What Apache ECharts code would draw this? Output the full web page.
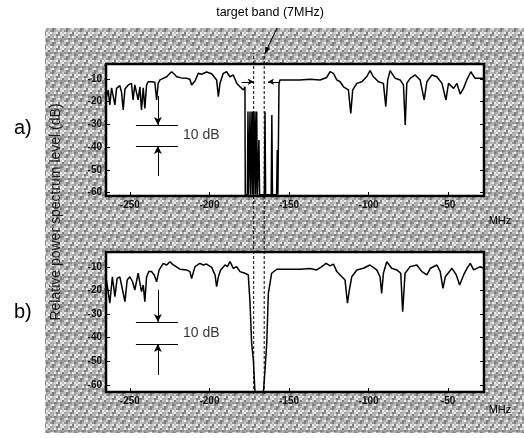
<!DOCTYPE html>
<html>
<head>
<meta charset="utf-8">
<script src="https://cdn.jsdelivr.net/npm/echarts@6/dist/echarts.min.js"></script>
<style>
html, body { margin: 0; padding: 0; background: #fff; }
#chart { width: 524px; height: 438px; }
</style>
</head>
<body>
<div id="chart"></div>
<script>
// spectrum a): [frequency MHz, relative level dB]
var traceA = [
  [-264.7,-17.9],[-263.6,-15.0],[-262.6,-21.5],[-261.5,-14.0],[-260.5,-13.2],[-259.4,-21.5],[-258.4,-14.2],
  [-256.3,-13.0],[-255.2,-16.0],[-254.2,-23.7],[-253.1,-14.5],[-251.0,-12.7],[-249.0,-12.0],[-248.0,-19.3],
  [-246.9,-12.7],[-245.8,-12.0],[-244.8,-19.3],[-243.7,-13.5],[-242.7,-23.7],[-241.6,-14.0],[-240.6,-23.0],
  [-239.5,-12.7],[-238.5,-11.3],[-236.4,-11.3],[-234.3,-11.5],[-233.2,-19.3],[-232.2,-12.0],[-231.1,-10.5],
  [-229.0,-9.8],[-226.9,-9.1],[-223.8,-6.9],[-222.0,-8.0],[-220.6,-9.1],[-217.5,-9.6],[-214.4,-9.8],
  [-212.3,-10.2],[-211.2,-12.7],[-210.2,-13.5],[-209.1,-11.0],[-207.0,-7.6],[-205.0,-8.0],[-203.9,-7.2],
  [-201.8,-7.0],[-200.7,-6.9],[-198.6,-7.8],[-197.6,-8.3],[-195.5,-10.5],[-194.4,-17.9],[-193.4,-12.0],
  [-191.3,-7.6],[-189.2,-6.9],[-188.2,-8.0],[-187.1,-9.1],[-185.0,-8.3],[-182.9,-12.0],[-180.8,-13.5],
  [-178.7,-14.9],[-177.7,-13.5],
  // notch with residual lines
  [-177.5,-61],[-176.2,-61],[-175.8,-24.4],[-175.4,-61],[-174.9,-61],[-174.5,-24.4],[-174.1,-61],
  [-173.7,-61],[-173.3,-24.4],[-172.9,-61],[-172.7,-61],[-172.5,-24.4],[-172.2,-61],[-171.8,-61],
  [-171.4,-24.4],[-171.0,-61],[-170.7,-61],[-170.3,-24.4],[-169.9,-61],[-169.3,-61],[-168.9,-36.9],
  [-168.5,-61],[-165.5,-61],[-165.1,-24.4],[-164.7,-61],[-161.2,-61],[-160.8,-25.9],[-160.4,-61],
  [-157.8,-61],[-157.4,-41.3],[-157.0,-61],[-156.5,-61],[-156.3,-12.0],
  [-155.7,-10.5],[-149.4,-10.5],[-143.1,-10.5],[-136.8,-10.2],[-130.5,-10.5],[-126.3,-9.4],[-124.2,-6.9],
  [-122.1,-7.6],[-120.0,-10.5],[-117.9,-11.3],[-115.8,-13.5],[-112.7,-14.9],[-111.2,-25.2],[-110.0,-14.9],
  [-107.4,-12.0],[-104.3,-11.3],[-101.2,-9.1],[-99.1,-6.4],[-97.0,-9.1],[-93.8,-11.3],[-90.7,-12.0],
  [-89.2,-22.2],[-88.0,-10.5],[-86.5,-6.4],[-83.3,-9.8],[-80.2,-10.5],[-78.1,-12.7],[-77.0,-30.3],
  [-76.0,-12.0],[-73.9,-9.8],[-70.7,-8.3],[-67.6,-10.5],[-65.1,-19.3],[-63.4,-11.3],[-60.2,-8.3],
  [-57.1,-9.1],[-53.9,-12.0],[-51.4,-19.3],[-49.8,-12.0],[-46.6,-14.2],[-44.5,-12.0],[-42.5,-16.7],
  [-40.4,-14.2],[-38.3,-10.5],[-35.8,-6.9],[-33.1,-9.8],[-29.9,-9.8],[-27.8,-9.8]
];

// spectrum b)
var traceB = [
  [-264.7,-15.6],[-262.6,-25.4],[-261.0,-14.2],[-259.4,-22.6],[-258.0,-14.9],[-256.3,-14.2],[-254.6,-19.8],
  [-253.1,-24.7],[-251.7,-15.6],[-250.0,-14.2],[-248.3,-16.3],[-246.9,-19.8],[-244.8,-12.7],[-242.7,-20.5],
  [-241.6,-17.7],[-240.6,-24.7],[-239.5,-14.2],[-238.1,-12.0],[-236.4,-12.0],[-234.7,-13.4],[-233.2,-16.3],
  [-231.6,-11.3],[-229.0,-8.5],[-226.9,-9.2],[-224.8,-7.8],[-222.7,-9.2],[-218.6,-11.0],[-214.4,-11.3],
  [-212.3,-12.0],[-211.2,-14.9],[-209.1,-9.9],[-206.0,-8.5],[-203.9,-9.2],[-201.8,-8.8],[-198.6,-10.2],
  [-196.5,-13.4],[-195.5,-18.4],[-194.4,-14.2],[-193.0,-11.3],[-190.2,-9.2],[-188.7,-9.9],[-187.1,-7.8],
  [-185.0,-10.6],[-182.9,-9.9],[-180.8,-12.0],[-177.7,-12.7],[-175.6,-13.4],[-174.5,-25.4],[-173.5,-42.4],
  [-172.4,-49.5],[-171.4,-63],[-166.1,-63],[-165.1,-53.7],[-164.0,-42.4],[-163.0,-21.2],[-160.9,-12.7],
  [-157.7,-11.0],[-151.5,-11.0],[-143.1,-11.0],[-136.8,-10.7],[-132.6,-11.3],[-129.4,-9.9],[-126.7,-8.5],
  [-124.2,-9.6],[-122.1,-8.8],[-120.0,-12.0],[-116.8,-14.2],[-114.8,-15.6],[-113.3,-25.4],[-112.1,-19.8],
  [-110.6,-14.2],[-107.4,-11.3],[-103.3,-10.6],[-99.1,-9.2],[-94.9,-11.3],[-92.8,-14.2],[-91.8,-21.2],
  [-90.7,-12.7],[-88.6,-7.8],[-85.5,-10.6],[-82.3,-11.3],[-79.8,-12.7],[-78.6,-29.0],[-77.1,-12.7],
  [-73.9,-9.9],[-69.7,-9.2],[-66.5,-12.0],[-63.4,-13.4],[-61.2,-10.6],[-57.1,-9.2],[-55.0,-12.0],
  [-53.3,-19.1],[-51.8,-14.2],[-47.6,-10.6],[-44.9,-13.4],[-42.8,-17.7],[-40.3,-13.4],[-38.2,-10.6],
  [-36.1,-8.5],[-34.0,-11.3],[-29.8,-9.9],[-27.8,-10.6]
];

// target band edges (MHz)
var bandEdges = [-172.2, -165.6];
var xRange = [-265, -27.5];
var yRangeA = [-61.5, -3.5];
var yRangeB = [-63, -3.7];

// "10 dB" scale markers: [bar top, bar bottom, arrow start above, arrow start below]
var tenDbA = [-30.3, -39.5, -17.5, -52.7];
var tenDbB = [-33.4, -42.7, -19.8, -55.8];
var markerSpan = [-246.2, -219.8];
var markerX = -232.4;
var labelX = -216.7;

var FONT = 'Arial, "Liberation Sans", sans-serif';

// coarse dither texture for the scanned background
var tex = document.createElement('canvas');
tex.width = 14; tex.height = 14;
var tctx = tex.getContext('2d');
var shades = ['#d0d0d0', '#7c7c7c', '#b0b0b0', '#ececec', '#939393', '#bfbfbf', '#a4a4a4'];
for (var i = 0; i < 7; i++) {
  for (var j = 0; j < 7; j++) {
    tctx.fillStyle = shades[(i * 3 + j * 5 + (i * j) % 3) % 7];
    tctx.fillRect(i * 2, j * 2, 2, 2);
  }
}

function xAxisOf(gi) {
  return {
    gridIndex: gi, type: 'value', min: xRange[0], max: xRange[1], splitNumber: 5,
    axisLine: { show: false },
    axisTick: { inside: true, length: 4, lineStyle: { color: '#000' } },
    splitLine: { show: false },
    axisLabel: {
      margin: 4, fontSize: 10, fontWeight: 'bold', color: '#111', fontFamily: FONT,
      showMinLabel: false, showMaxLabel: false,
      formatter: function (v) { return v % 50 === 0 ? String(v) : ''; }
    }
  };
}

function yAxisOf(gi, range, side) {
  return {
    gridIndex: gi, type: 'value', min: range[0], max: range[1], splitNumber: 6,
    position: side,
    axisLine: { show: false },
    axisTick: { inside: true, length: 4, lineStyle: { color: '#000' } },
    splitLine: { show: false },
    axisLabel: {
      show: side === 'left', margin: 4, fontSize: 10, fontWeight: 'bold', color: '#111', fontFamily: FONT,
      showMinLabel: false, showMaxLabel: false,
      formatter: function (v) { return v % 10 === 0 ? String(v) : ''; }
    }
  };
}

function scaleMarks(m) {
  return [
    [{ coord: [markerSpan[0], m[0]] }, { coord: [markerSpan[1], m[0]] }],
    [{ coord: [markerSpan[0], m[1]] }, { coord: [markerSpan[1], m[1]] }],
    [{ coord: [markerX, m[2]] }, { coord: [markerX, m[0]], symbol: 'arrow', symbolSize: [6, 8] }],
    [{ coord: [markerX, m[3]] }, { coord: [markerX, m[1]], symbol: 'arrow', symbolSize: [6, 8] }]
  ];
}

var marksA = scaleMarks(tenDbA).concat([
  [{ coord: [-179.8, -11.3] }, { coord: [bandEdges[0], -11.3], symbol: 'arrow', symbolSize: [5, 6] }],
  [{ coord: [-155.7, -11.3] }, { coord: [-163.2, -11.3], symbol: 'arrow', symbolSize: [5, 6] }]
]);

function markLineOf(data) {
  return {
    silent: true, animation: false, symbol: ['none', 'none'],
    label: { show: false },
    lineStyle: { color: '#000', width: 1, type: 'solid' },
    data: data
  };
}

var chart = echarts.init(document.getElementById('chart'));

var option = {
  backgroundColor: '#fff',
  animation: false,
  grid: [
    { left: 106, top: 64, width: 378, height: 132, show: true, backgroundColor: '#fff', borderColor: '#000', borderWidth: 2.5 },
    { left: 106, top: 252, width: 378, height: 140, show: true, backgroundColor: '#fff', borderColor: '#000', borderWidth: 2.5 },
    { left: 106, top: 53, width: 378, height: 341, show: false }
  ],
  xAxis: [
    xAxisOf(0),
    xAxisOf(1),
    { gridIndex: 2, type: 'value', min: xRange[0], max: xRange[1], show: false }
  ],
  yAxis: [
    yAxisOf(0, yRangeA, 'left'),
    yAxisOf(0, yRangeA, 'right'),
    yAxisOf(1, yRangeB, 'left'),
    yAxisOf(1, yRangeB, 'right'),
    { gridIndex: 2, type: 'value', min: 0, max: 1, show: false }
  ],
  series: [
    {
      type: 'line', xAxisIndex: 0, yAxisIndex: 0, data: traceA,
      showSymbol: false, symbol: 'none',
      lineStyle: { color: '#000', width: 1.5 },
      markLine: markLineOf(marksA)
    },
    {
      type: 'line', xAxisIndex: 1, yAxisIndex: 2, data: traceB,
      showSymbol: false, symbol: 'none',
      lineStyle: { color: '#000', width: 1.5 },
      markLine: markLineOf(scaleMarks(tenDbB))
    },
    {
      type: 'line', xAxisIndex: 2, yAxisIndex: 4, symbol: 'none',
      data: [[bandEdges[0], 0], [bandEdges[0], 1]],
      lineStyle: { color: '#000', width: 1, type: [3, 2] }
    },
    {
      type: 'line', xAxisIndex: 2, yAxisIndex: 4, symbol: 'none',
      data: [[bandEdges[1], 0], [bandEdges[1], 1]],
      lineStyle: { color: '#000', width: 1, type: [3, 2] }
    },
    {
      type: 'scatter', xAxisIndex: 0, yAxisIndex: 0, symbolSize: 0.1,
      data: [[labelX, (tenDbA[0] + tenDbA[1]) / 2]],
      label: { show: true, position: 'right', distance: 0, formatter: '10 dB', fontSize: 14, color: '#000', fontFamily: FONT }
    },
    {
      type: 'scatter', xAxisIndex: 1, yAxisIndex: 2, symbolSize: 0.1,
      data: [[labelX, (tenDbB[0] + tenDbB[1]) / 2]],
      label: { show: true, position: 'right', distance: 0, formatter: '10 dB', fontSize: 14, color: '#000', fontFamily: FONT }
    }
  ],
  graphic: [
    {
      type: 'rect', z: -10, silent: true,
      shape: { x: 45, y: 28, width: 479, height: 405 },
      style: { fill: { image: tex, repeat: 'repeat' } }
    },
    {
      type: 'text', z: 100, x: 270, y: 13,
      style: { text: 'target band (7MHz)', fontSize: 12.5, fontFamily: FONT, fill: '#000', textAlign: 'center', textVerticalAlign: 'middle' }
    },
    {
      type: 'line', z: 100,
      shape: { x1: 277, y1: 28, x2: 266, y2: 51 },
      style: { stroke: '#000', lineWidth: 1 }
    },
    {
      type: 'polygon', z: 100,
      shape: { points: [[265, 54], [269.9, 48.7], [265.3, 46.5]] },
      style: { fill: '#000' }
    },
    {
      type: 'text', z: 100, x: 56, y: 212, rotation: Math.PI / 2,
      style: { text: 'Relative power spectrum level (dB)', fontSize: 14, fontFamily: FONT, fill: '#1a1a1a', textAlign: 'center', textVerticalAlign: 'middle' }
    },
    {
      type: 'text', z: 100, x: 14, y: 128,
      style: { text: 'a)', fontSize: 20, fontFamily: FONT, fill: '#000', textVerticalAlign: 'middle' }
    },
    {
      type: 'text', z: 100, x: 14, y: 312,
      style: { text: 'b)', fontSize: 20, fontFamily: FONT, fill: '#000', textVerticalAlign: 'middle' }
    },
    {
      type: 'text', z: 100, x: 500, y: 221,
      style: { text: 'MHz', fontSize: 11, fontFamily: FONT, fill: '#000', textAlign: 'center', textVerticalAlign: 'middle' }
    },
    {
      type: 'text', z: 100, x: 500, y: 410,
      style: { text: 'MHz', fontSize: 11, fontFamily: FONT, fill: '#000', textAlign: 'center', textVerticalAlign: 'middle' }
    }
  ]
};

chart.setOption(option);
</script>
</body>
</html>
